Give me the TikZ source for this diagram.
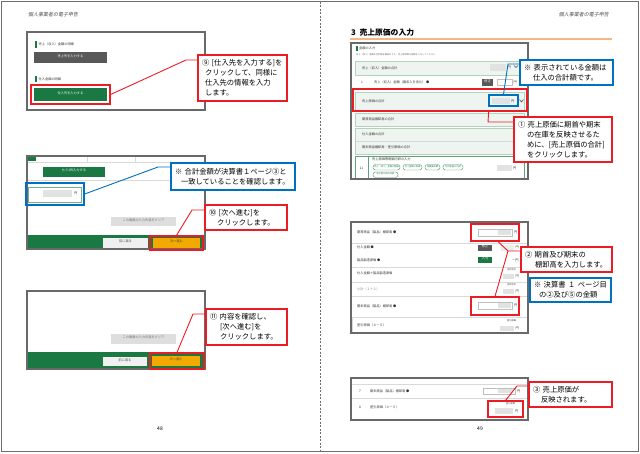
\documentclass[tikz,border=0pt]{standalone}
\usepackage{fontspec}
\newfontfamily\jp{Noto Sans CJK JP}
\newfontfamily\jphdr[FakeSlant=0.2]{Noto Sans CJK JP}
\usetikzlibrary{fit}

\definecolor{calred}{RGB}{236,28,36}
\definecolor{calblue}{RGB}{0,112,192}
\definecolor{shotgray}{RGB}{105,105,105}
\definecolor{btngreen}{RGB}{26,121,67}
\definecolor{btngray}{RGB}{88,88,88}
\definecolor{btnorange}{RGB}{242,169,0}
\definecolor{rowfill}{RGB}{238,245,240}
\definecolor{rowedge}{RGB}{178,210,188}
\definecolor{fieldgray}{RGB}{224,227,225}
\definecolor{titleline}{RGB}{248,182,130}
\definecolor{pagegray}{RGB}{110,110,110}

\newcommand\tinyjp{\jp\fontsize{3.2}{3.6}\selectfont}
\newcommand\microjp{\jp\fontsize{2.2}{2.6}\selectfont}

\tikzset{
  shot/.style={draw=shotgray, line width=1.1pt, inner sep=0pt},
  hlbox/.style={line width=1.3pt, inner sep=0pt},
  redhl/.style={hlbox, draw=calred},
  bluehl/.style={hlbox, draw=calblue},
  callout/.style={fill=white, line width=1.2pt, inner xsep=4pt, inner ysep=0pt,
    align=left, font=\jp\fontsize{7.3}{10}\selectfont},
  redcall/.style={callout, draw=calred},
  bluecall/.style={callout, draw=calblue},
  redlink/.style={draw=calred, line width=0.9pt},
  bluelink/.style={draw=calblue, line width=0.9pt},
  tinytext/.style={font=\tinyjp, inner sep=0pt, anchor=west, text=black!80},
  btn/.style={inner sep=0pt, font=\tinyjp, text=white},
  row/.style={draw=rowedge, fill=rowfill, line width=0.5pt, inner sep=0pt},
  field/.style={draw=black!25, fill=white, line width=0.4pt, inner sep=0pt},
  pill/.style={draw=btngreen!80, fill=white, rounded corners=2.5pt, line width=0.4pt,
    inner sep=0pt, font=\microjp, text=btngreen},
  sepline/.style={draw=black!15, line width=0.4pt},
}

\begin{document}
\begin{tikzpicture}[x=1pt,y=-1pt]
\useasboundingbox (0,0) rectangle (640,453);
% page frames
\draw[pagegray, line width=1pt] (1.5,1.5) rectangle (638.5,451.5);
\draw[pagegray, line width=0.8pt, dash pattern=on 2pt off 1.5pt] (320,1.5) -- (320,451.5);

\node[tinytext, font=\jphdr\fontsize{5}{6}\selectfont, text=black!70] (hdrL) at (28,15) {個人事業者の電子申告};
\node[tinytext, anchor=east, font=\jphdr\fontsize{5}{6}\selectfont, text=black!70] (hdrR) at (609,15) {個人事業者の電子申告};
\node[font=\jp\fontsize{5}{6}\selectfont, inner sep=0pt] (pg48) at (160,429) {48};
\node[font=\jp\fontsize{5}{6}\selectfont, inner sep=0pt] (pg49) at (480,429) {49};

%%%%% left page
% screen: purchase buttons
\fill[btngreen] (35,41) rectangle (36.5,47.5);
\node[tinytext] (salehead) at (38.5,44.5) {売上（収入）金額の明細};
\node[btn, fill=btngray, fit={(34,52)(107,63)}] (salebtn) {売上先を入力する};
\fill[btngreen] (35,75.5) rectangle (36.5,82);
\node[tinytext] (buyhead) at (38.5,79) {仕入金額の明細};
\node[btn, fill=btngreen, fit={(34,88)(107,101)}] (buybtn) {仕入先を入力する};
\node[shot, fit={(27,32)(205,110)}] (shotA) {};
\node[redhl, fit={(31,85)(110,104)}] (hl9) {};

% screen: total and next
\fill[btngreen] (28,157) rectangle (36,161);
\draw[sepline] (27,162.5) -- (205,162.5) (87,156) -- (87,162.5) (135,156) -- (135,162.5);
\node[btn, fill=btngreen, fit={(43,167)(105,177)}] (morebtn) {もう1件入力する};
\draw[sepline] (27,180) -- (205,180);
\node[field, draw=btngreen!60, line width=0.6pt, fit={(28,187)(81,202)}] (sumfield) {};
\fill[fieldgray] (43,190) rectangle (72,197);
\node[tinytext] (sumyen) at (74,193.5) {円};
\node[btn, fill=black!13, text=black!55, fit={(111,217)(176,226)}] (clearB) {この画面の入力内容をクリア};
\fill[btngreen] (27,235) rectangle (205,249);
\node[btn, fill=black!6, text=black!70, fit={(103,238)(148,248)}] (backB) {前に戻る};
\node[btn, fill=btnorange, text=black!70, fit={(153,238)(200,248)}] (nextB) {次へ進む};
\node[shot, fit={(27,156)(205,249)}] (shotB) {};
\node[bluehl, fit={(26,183)(84,205)}] (hlsum) {};
\node[redhl, fit={(150,236)(203,250)}] (hl10) {};

% screen: confirm and next
\node[btn, fill=black!13, text=black!55, fit={(111,334)(176,344)}] (clearC) {この画面の入力内容をクリア};
\fill[btngreen] (27,352) rectangle (205,369);
\node[btn, fill=black!6, text=black!70, fit={(103,357)(147,366)}] (backC) {前に戻る};
\node[btn, fill=btnorange, text=black!70, fit={(152,356)(200,366)}] (nextC) {次へ進む};
\node[shot, fit={(27,291)(205,369)}] (shotC) {};
\node[redhl, fit={(150,353)(204,369)}] (hl11) {};

% callouts
\node[redcall, minimum width=89, minimum height=46, text width=81] (c9) at (242.5,78)
  {⑨ [仕入先を入力する]を\\\hspace*{3pt}クリックして、同様に\\\hspace*{3pt}仕入先の情報を入力\\\hspace*{3pt}します。};
\node[bluecall, minimum width=124, minimum height=27, text width=116] (csum) at (233,176.5)
  {※ 合計金額が決算書１ページ③と\\\hspace*{6pt}一致していることを確認します。};
\node[redcall, minimum width=82, minimum height=25, text width=74] (c10) at (246,217.5)
  {⑩ [次へ進む]を\\\hspace*{8pt}クリックします。};
\node[redcall, minimum width=81, minimum height=36, text width=73] (c11) at (246.5,327)
  {⑪ 内容を確認し、\\\hspace*{10pt}[次へ進む]を\\\hspace*{10pt}クリックします。};

\draw[redlink] (hl9.east) -- (186,60) coordinate (b9) -- (b9 -| c9.west);
\draw[bluelink] (hlsum.east) -- (158,167) coordinate (bsum) -- (bsum -| csum.west);
\draw[redlink] (hl10.north) -- (192,210) coordinate (b10) -- (b10 -| c10.west);
\draw[redlink] (hl11.north) -- (193,314) coordinate (b11) -- (b11 -| c11.west);

%%%%% right page
\node[tinytext, font=\jp\bfseries\fontsize{7.8}{9}\selectfont, text=black] (title) at (351,33) {3\ \ 売上原価の入力};
\draw[titleline, line width=1.6pt] (350,39) -- (612,39);

% screen: amount list
\fill[btngreen] (356,45.5) rectangle (357.5,51);
\node[tinytext] (amthead) at (359,48.5) {金額の入力};
\node[tinytext, font=\microjp, text=black!60] (amtnote) at (356,54.5) {売上（収入）金額の合計額を確認のうえ、売上原価等の金額を入力してください。};
\node[row, fit={(355,61)(525,75)}] (rowsale) {};
\node[tinytext] at (362,68) {売上（収入）金額の合計};
\fill[fieldgray] (490,63.5) rectangle (506,70.5);
\node[tinytext] at (507.5,67) {円};
\draw[black!70, line width=0.5pt] (514,65.5) -- (516,67.5) -- (518,65.5);
\node[tinytext] at (361,82) {1};
\node[tinytext] at (374,82) {売上（収入）金額（雑収入を含む） ●};
\node[btn, fill=btngray, fit={(482,79)(493,86)}] (fixA) {修正};
\node[field, fit={(497,79.5)(512,85.5)}] (fieldsale) {};
\node[tinytext] at (513.5,82.5) {円};
\node[row, fit={(355,92)(524,110)}] (rowcogs) {};
\node[tinytext] at (362,101) {売上原価の合計};
\fill[fieldgray] (492,98) rectangle (510,104);
\node[tinytext] at (511,101) {円};
\draw[black!70, line width=0.6pt] (519.5,99.5) -- (521.5,102) -- (523.5,99.5);
\node[row, fit={(355,113)(524,126)}] (rowopen) {};
\node[tinytext] at (362,119.5) {期首商品棚卸高の合計};
\node[tinytext, anchor=east] at (522,119.5) {0円};
\node[row, fit={(355,128)(524,154)}] (rowclose) {};
\draw[sepline] (356,141) -- (523,141);
\node[tinytext] at (362,134.5) {仕入金額の合計};
\node[tinytext, anchor=east] at (522,134.5) {0円};
\node[tinytext] at (362,147.5) {期末商品棚卸高・差引原価の合計};
\node[tinytext, anchor=east] at (522,147.5) {0円};
\node[field, draw=btngreen!70, line width=0.9pt, fit={(355,156)(524,179)}] (rowdetail) {};
\draw[btngreen!70, line width=0.6pt] (368,156) -- (368,179);
\node[tinytext] at (359.5,168) {11};
\node[tinytext] at (372,159.5) {売上原価等明細内訳の入力};
\node[pill, fit={(373,164.5)(400,170)}] (p1) {売上（収入）金額の明細};
\node[pill, fit={(403,164.5)(422,170)}] (p2) {仕入金額の明細};
\node[pill, fit={(425,164.5)(440,170)}] (p3) {減価償却費};
\node[pill, fit={(443,164.5)(463,170)}] (p4) {地代家賃の内訳};
\node[pill, fit={(373,172)(398,177.5)}] (p5) {利子割引料の内訳};
\fill[fieldgray] (497,165) rectangle (512,171);
\node[tinytext] at (513,168) {円};
\node[shot, fit={(351,43)(528,179)}] (shotD) {};
\node[bluehl, fit={(489,95)(518,106)}] (hlamt) {};
\node[redhl, fit={(353,89)(527,111)}] (hlcogs) {};

% screen: stock entry
\node[tinytext] at (357,232.5) {期首商品（製品）棚卸高 ●};
\node[field, fit={(478,229)(512,236)}] (fieldopen) {};
\fill[fieldgray] (498,230) rectangle (511,235);
\node[tinytext] at (514,232.5) {円};
\draw[sepline] (352,243) -- (527,243);
\node[tinytext] at (357,247.5) {仕入金額 ●};
\node[btn, fill=btngray, fit={(478,244.5)(492,250.5)}] (fixB) {修正};
\fill[fieldgray!60] (501,244.5) rectangle (514,250.5);
\node[tinytext] at (515.5,247.5) {円};
\node[tinytext] at (357,260) {製品製造原価 ●};
\node[btn, fill=btngreen, fit={(478,257)(492,263)}] (inB) {入力};
\node[tinytext] at (512,260) {－円};
\draw[sepline] (352,267) -- (527,267);
\node[tinytext] at (357,273) {仕入金額＋製品製造原価};
\node[tinytext, font=\microjp] at (507,270) {内訳合計};
\fill[fieldgray] (503,274) rectangle (514,279);
\node[tinytext] at (515.5,276.5) {円};
\draw[sepline] (352,282) -- (527,282);
\node[tinytext, text=black!50] at (357,289) {小計（１＋２）};
\node[tinytext, font=\microjp] at (507,285) {内訳合計};
\fill[fieldgray] (503,289) rectangle (514,294);
\node[tinytext] at (515.5,291.5) {円};
\draw[sepline] (352,296) -- (527,296);
\node[tinytext] at (357,306) {期末商品（製品）棚卸高 ●};
\node[field, fit={(478,302)(512,309)}] (fieldclose) {};
\fill[fieldgray] (498,303) rectangle (511,308);
\node[tinytext] at (514,305.5) {円};
\node[field, draw=black!15, fit={(352,317)(527,333)}] (rowcost) {};
\node[tinytext] at (357,325.5) {差引原価（４－５）};
\node[tinytext, font=\microjp] at (507,321) {差引原価};
\fill[fieldgray] (500,326) rectangle (514,331);
\node[tinytext] at (515.5,328.5) {円};
\node[shot, fit={(351,222)(528,333)}] (shotE) {};
\node[redhl, fit={(471,224)(519,241)}] (hlopen) {};
\node[redhl, fit={(471,297)(519,315)}] (hlclose) {};

% screen: result
\draw[sepline] (352,384) -- (527,384);
\draw[sepline] (352,398) -- (527,398);
\node[tinytext] at (359,391.5) {7};
\node[tinytext] at (370,391.5) {期末商品（製品）棚卸高 ●};
\node[field, fit={(483,388)(515,394)}] (field7) {};
\fill[fieldgray] (498,389) rectangle (513,393);
\node[tinytext] at (517,391) {円};
\node[tinytext] at (359,407) {8};
\node[tinytext] at (370,407) {差引原価（４－５）};
\node[tinytext, font=\microjp] at (506,404) {差引原価};
\fill[fieldgray] (495,408) rectangle (513,414);
\node[tinytext] at (515,411) {円};
\node[shot, fit={(351,378)(528,420)}] (shotF) {};
\node[redhl, fit={(488,401)(523,417)}] (hl8) {};

% callouts
\node[bluecall, minimum width=93, minimum height=25, text width=85] (ctotal) at (566.5,72.5)
  {※ 表示されている金額は\\\hspace*{9pt}仕入の合計額です。};
\node[redcall, minimum width=98, minimum height=45, text width=90] (c1) at (563,139.5)
  {① 売上原価に期首や期末\\\hspace*{9pt}の在庫を反映させるた\\\hspace*{9pt}めに、[売上原価の合計]\\\hspace*{9pt}をクリックします。};
\node[redcall, minimum width=91, minimum height=25, text width=83] (c2) at (566.5,259.5)
  {② 期首及び期末の\\\hspace*{10pt}棚卸高を入力します。};
\node[bluecall, minimum width=81, minimum height=24, text width=73] (cref) at (570.5,290)
  {※ 決算書 １ ページ目\\\hspace*{5pt}の②及び⑤の金額};
\node[redcall, minimum width=83, minimum height=25, text width=75] (c3) at (570.5,394.5)
  {③ 売上原価が\\\hspace*{8pt}反映されます。};

\draw[bluelink] (hlamt.north) -- (508,64) coordinate (bt) -- (bt -| ctotal.west);
\draw[redlink] ([xshift=-39pt]hlcogs.south east) -- (488,122) coordinate (b1) -- (b1 -| c1.west);
\draw[redlink] ([xshift=3pt]hlopen.south) -- (508,251) coordinate (b2) -- (b2 -| c2.west);
\draw[redlink] (hlclose.north) -- (b2);
\draw[redlink] (hl8.north) -- (517,386) coordinate (b3) -- (b3 -| c3.west);
\end{tikzpicture}
\end{document}
